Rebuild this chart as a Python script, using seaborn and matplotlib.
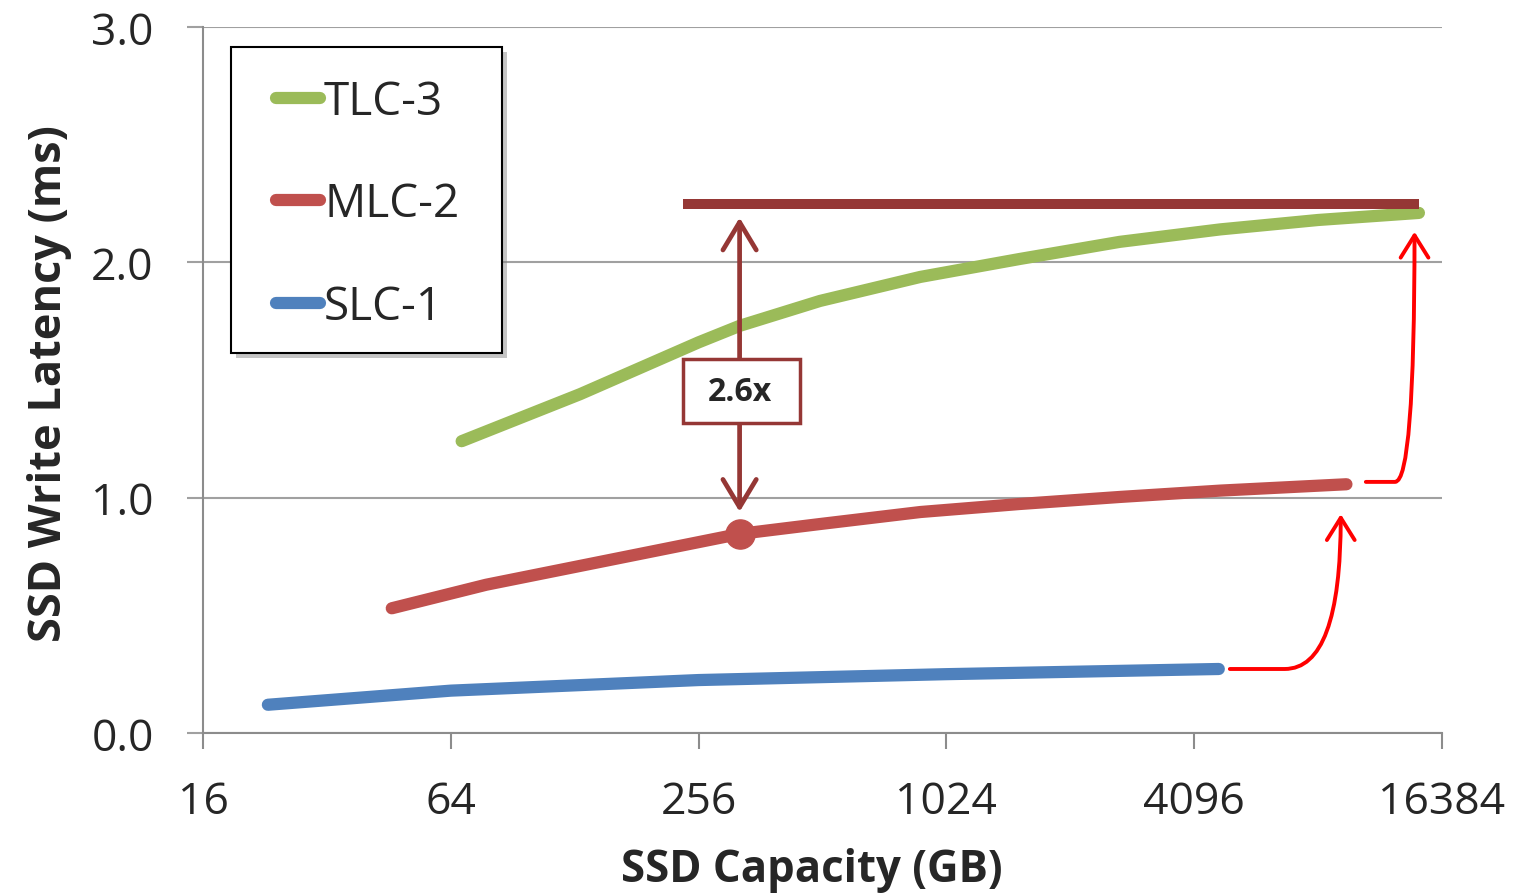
import numpy as np
import pandas as pd
import matplotlib
matplotlib.use("Agg")
import matplotlib.pyplot as plt
import seaborn as sns
from matplotlib.path import Path
from matplotlib.patches import FancyArrowPatch, Rectangle

# ---- data ----
slc_cap = [23, 64, 256, 1024, 4700]
slc_lat = [0.12, 0.18, 0.225, 0.25, 0.272]

mlc_cap = [46, 78, 322, 505, 885, 1540, 2700, 4740, 9600]
mlc_lat = [0.53, 0.63, 0.846, 0.888, 0.939, 0.973, 1.003, 1.03, 1.057]

tlc_cap = [68, 132, 256, 322, 505, 885, 1540, 2700, 4740, 8200, 14400]
tlc_lat = [1.24, 1.44, 1.66, 1.73, 1.836, 1.938, 2.014, 2.087, 2.14, 2.18, 2.21]

series_names = ["SLC-1", "MLC-2", "TLC-3"]
series_colors = ["#4F81BD", "#C0504D", "#9BBB59"]
legend_order = ["TLC-3", "MLC-2", "SLC-1"]

x_ticks = [16, 64, 256, 1024, 4096, 16384]
x_tick_labels = ["16", "64", "256", "1024", "4096", "16384"]
y_ticks = [0.0, 1.0, 2.0, 3.0]
y_tick_labels = ["0.0", "1.0", "2.0", "3.0"]

# annotation values
bar_level = 2.25
bar_start, bar_end = 234, 14400
ann_x = 322
ann_top, ann_bottom = 2.19, 0.94
ann_dot = 0.846
ann_text = "2.6x"

df = pd.concat([
    pd.DataFrame({"cap": slc_cap, "lat": slc_lat, "type": "SLC-1"}),
    pd.DataFrame({"cap": mlc_cap, "lat": mlc_lat, "type": "MLC-2"}),
    pd.DataFrame({"cap": tlc_cap, "lat": tlc_lat, "type": "TLC-3"}),
])

sns.set_style("white")
plt.rcParams["font.family"] = ["Open Sans", "DejaVu Sans"]

W, H = 1518, 895
fig = plt.figure(figsize=(W / 100, H / 100), dpi=100)
ax = fig.add_axes([203 / W, 1 - 734 / H, (1442 - 203) / W, (734 - 28) / H])

sns.lineplot(data=df, x="cap", y="lat", hue="type", hue_order=series_names,
             palette=series_colors, linewidth=8.8, ax=ax, legend=True,
             sort=True, estimator=None)
for ln in ax.get_lines():
    ln.set_solid_capstyle("round")
    ln.set_solid_joinstyle("round")

ax.set_xscale("log", base=2)
ax.set_xlim(16, 16384)
ax.set_ylim(0, 3.0)
ax.set_xticks(x_ticks)
ax.set_xticklabels(x_tick_labels)
ax.minorticks_off()
ax.set_yticks(y_ticks)
ax.set_yticklabels(y_tick_labels)

grid_c = "#A0A0A0"
ax.yaxis.grid(True, color=grid_c, linewidth=1.5)
ax.xaxis.grid(False)
ax.set_axisbelow(True)
for s in ["top", "right"]:
    ax.spines[s].set_visible(False)
for s in ["left", "bottom"]:
    ax.spines[s].set_color("#8C8C8C")
    ax.spines[s].set_linewidth(1.5)

ax.tick_params(axis="x", direction="out", length=11.5, width=1.5, color="#8C8C8C",
               labelsize=32, pad=22, bottom=True)
ax.tick_params(axis="y", direction="out", length=11.5, width=1.5, color=grid_c,
               labelsize=32, pad=24, left=True)

ax.set_xlabel("SSD Capacity (GB)", fontsize=31.5, fontweight="bold")
ax.xaxis.set_label_coords(0.4915, -0.161)
ax.set_ylabel("SSD Write Latency (ms)", fontsize=32.5, fontweight="bold")
ax.yaxis.set_label_coords(-0.106, 0.497)

# legend: custom frame with shadow + frameless legend inside
def px2ax(x, y):
    return (x - 203) / 1239, (734 - y) / 706

fx0, fy0 = px2ax(231, 354)
fx1, fy1 = px2ax(502, 48)
sdx, sdy = 5 / 1239, 5 / 706
ax.add_patch(Rectangle((fx0 + sdx, fy0 - sdy), fx1 - fx0, fy1 - fy0,
                       transform=ax.transAxes, facecolor="#7F7F7F", alpha=0.45,
                       edgecolor="none", zorder=9, clip_on=False))
ax.add_patch(Rectangle((fx0, fy0), fx1 - fx0, fy1 - fy0, transform=ax.transAxes,
                       facecolor="white", edgecolor="black", linewidth=1.5,
                       zorder=10, clip_on=False))

handles, labels = ax.get_legend_handles_labels()
order = [labels.index(n) for n in legend_order]
lx, ly = px2ax(276, 80)
leg = ax.legend([handles[i] for i in order], [labels[i] for i in order],
                loc="upper left", bbox_to_anchor=(lx, ly),
                fontsize=33, frameon=False,
                handlelength=0.95, handletextpad=0.1, labelspacing=1.23,
                borderpad=0, borderaxespad=0)
leg.set_zorder(11)
for h in leg.get_lines():
    h.set_linewidth(8.8)
    h.set_solid_capstyle("round")

# annotation: dark red bar, double arrow, box, dot
dark = "#953735"
ax.plot([bar_start, bar_end], [bar_level, bar_level], color=dark, linewidth=7.2,
        solid_capstyle="butt", zorder=5)
ax.plot([ann_x], [ann_dot], "o", color="#C0504D", markersize=21, zorder=6)
ax.annotate("", xy=(ann_x, ann_top), xytext=(ann_x, ann_bottom),
            arrowprops=dict(arrowstyle="<->,head_length=1.0,head_width=0.6",
                            color=dark, lw=3.4, mutation_scale=20,
                            shrinkA=0, shrinkB=0), zorder=6)
ax.add_patch(Rectangle((234, 1.317), 452 - 234, 0.272, facecolor="white",
                       edgecolor=dark, linewidth=2.5, zorder=7))
ax.text(ann_x, 1.453, ann_text, ha="center", va="center", fontsize=23,
        fontweight="bold", zorder=8)

# red curved arrows
def red_arrow(p0, p1, ctrl, p2):
    path = Path([p0, p1, ctrl, p2],
                [Path.MOVETO, Path.LINETO, Path.CURVE3, Path.CURVE3])
    arr = FancyArrowPatch(path=path, arrowstyle="->,head_length=0.8,head_width=0.5",
                          mutation_scale=20, color="red", lw=2.8, zorder=6)
    ax.add_patch(arr)

red_arrow((5000, 0.272), (6800, 0.272), (9300, 0.272), (9300, 0.93))
red_arrow((10700, 1.067), (12600, 1.067), (14050, 1.067), (14050, 2.13))

fig.savefig("out.png", dpi=100)
